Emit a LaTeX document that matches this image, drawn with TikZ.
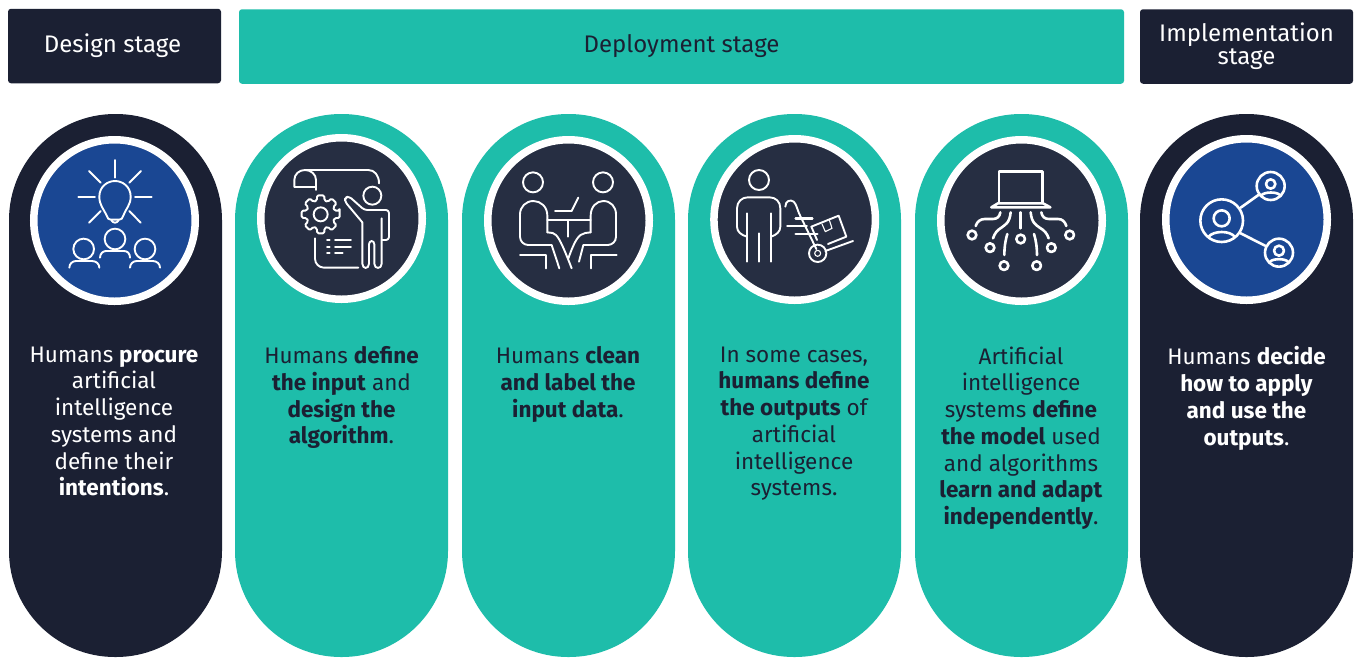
\documentclass[tikz,border=0pt]{standalone}
\usepackage{fontspec}
\setmainfont{Fira Sans}
\definecolor{navy}{HTML}{1B2033}
\definecolor{teal2}{HTML}{1EBDAA}
\definecolor{blue2}{HTML}{1A4793}
\definecolor{slate}{HTML}{262E42}
\tikzset{
  pill/.style={rectangle,minimum width=213pt,minimum height=543pt,rounded corners=106pt,inner sep=0pt},
  navypill/.style={pill,fill=navy},
  tealpill/.style={pill,fill=teal2},
  head/.style={rectangle,rounded corners=3pt,minimum height=74.5pt,inner sep=0pt,align=center,font=\fontsize{24}{24}\selectfont},
  badge/.style={circle,draw=white,line width=7.5pt,minimum size=161.5pt,inner sep=0pt},
  body/.style={anchor=north,align=center,inner sep=0pt,font=\fontsize{22.5}{26.7}\selectfont,execute at begin node={\rule{0pt}{20pt}}},
  icon/.style={draw=white,line width=1.9pt,line cap=round,line join=round,fill=none},
  thin/.style={icon,line width=1.1pt},
  heavy/.style={icon,line width=2.6pt},
  zoomed/.style={x=.33333pt,y=-.33333pt}
}
\newcommand{\bb}[1]{\textbf{#1}}
\begin{document}
\begin{tikzpicture}[x=1pt,y=-1pt]
\useasboundingbox (0,0) rectangle (1359,657);
\fill[white] (0,0) rectangle (1359,657);
% headers
\node[head,fill=navy,text=white,minimum width=213pt] (h1) at (114.5,46) {\raisebox{2pt}{Design stage}\kern4pt};
\node[head,fill=teal2,text=navy,minimum width=885pt] (h2) at (681.5,46.5) {\raisebox{2pt}{Deployment stage}};
\node[head,fill=navy,text=white,minimum width=213pt] (h3) at (1246.5,46.5) {Implementation\\[-1pt]stage};
% pills
\node[navypill] (p1) at (115.5,385.5) {};
\node[tealpill] (p2) at (341.5,385.5) {};
\node[tealpill] (p3) at (568.5,385.5) {};
\node[tealpill] (p4) at (794.5,385.5) {};
\node[tealpill] (p5) at (1021.5,385.5) {};
\node[navypill] (p6) at (1246.5,385.5) {};
% badges
\node[badge,fill=blue2] (b1) at (114.5,220.5) {};
\node[badge,fill=slate] (b2) at (341.5,218.5) {};
\node[badge,fill=slate] (b3) at (568.5,220.5) {};
\node[badge,fill=slate] (b4) at (794.7,219.5) {};
\node[badge,fill=slate] (b5) at (1021.5,220.5) {};
\node[badge,fill=blue2] (b6) at (1246.5,219.5) {};
% texts
\node[body,text=white] (t1) at (114,346.5) {Humans \bb{procure}\\artificial\\intelligence\\systems and\\define their\\\bb{intentions}.};
\node[body,text=navy] (t2) at (341.5,346.5) {Humans \bb{define}\\\bb{the input} and\\\bb{design the}\\\bb{algorithm}.};
\node[body,text=navy] (t3) at (568,346.5) {Humans \bb{clean}\\\bb{and label the}\\\bb{input data}.};
\node[body,text=navy] (t4) at (794,346.5) {In some cases,\\\bb{humans define}\\\bb{the outputs} of\\artificial\\intelligence\\systems.};
\node[body,text=navy] (t5) at (1021,346.5) {Artificial\\intelligence\\systems \bb{define}\\\bb{the model} used\\and algorithms\\\bb{learn and adapt}\\\bb{independently}.};
\node[body,text=white] (t6) at (1246.5,346.5) {Humans \bb{decide}\\\bb{how to apply}\\\bb{and use the}\\\bb{outputs}.};
% icon 1
\begin{scope}[shift={(20,125)},zoomed]
\foreach \a/\b/\c/\d in {285/105/285/158,207/138/242/173,363/138/328/173,175/215/225/215,345/215/395/215,242/258/207/293,328/258/362/293}
  \draw[icon] (\a,\b)--(\c,\d);
\draw[icon] (260,272) .. controls (250,250) and (238,240) .. (238,215) .. controls (238,185) and (262,168) .. (285,168) .. controls (308,168) and (332,185) .. (332,215) .. controls (332,240) and (318,250) .. (310,272) .. controls (308,280) and (304,284) .. (298,284) -- (272,284) .. controls (266,284) and (262,280) .. (260,272);
\draw[icon] (275,287) .. controls (280,295) and (290,295) .. (295,287);
\draw[icon] (285,342) circle[radius=31];
\draw[icon] (240,398) .. controls (240,385) and (250,378) .. (258,378) -- (312,378) .. controls (322,378) and (330,385) .. (330,398);
\draw[icon] (191,372) circle[radius=31];
\draw[icon] (148,428) .. controls (148,416) and (158,408) .. (168,408) -- (216,408) .. controls (228,408) and (238,416) .. (238,428);
\draw[icon] (375,372) circle[radius=31];
\draw[icon] (330,428) .. controls (330,416) and (340,408) .. (350,408) -- (398,408) .. controls (410,408) and (420,416) .. (420,428);
\end{scope}
% icon 2
\begin{scope}[shift={(245,125)},zoomed]
\draw[icon] (213,195) -- (213,165) .. controls (213,148) and (198,135) .. (180,135) .. controls (162,135) and (148,148) .. (148,165) -- (148,186) -- (213,186);
\draw[icon] (180,135) -- (370,135) .. controls (388,135) and (402,150) .. (402,175);
\begin{scope}[shift={(227,268)}]
\draw[icon,rounded corners=1.5pt] (-11:58) foreach \a in {0,45,...,315} { -- (\a-11:58) -- (\a+11:58) -- (\a+15:43) -- (\a+30:43) } -- cycle;
\draw[icon] (0,0) circle[radius=21];
\end{scope}
\draw[icon] (382,212) circle[radius=27];
\draw[icon,rounded corners=3pt] (352,292) -- (300,230) -- (300,218) -- (312,214) -- (358,255) -- (432,255) -- (432,345) -- (412,345);
\draw[icon] (352,292) -- (352,416) .. controls (352,433) and (372,433) .. (372,416) -- (372,358) .. controls (372,345) and (388,345) .. (388,358) -- (388,416) .. controls (388,433) and (410,433) .. (410,416) -- (410,280);
\draw[icon,rounded corners=9pt] (210,340) -- (210,428) -- (340,428);
\foreach \y/\e in {345/318,365/318,383/293} {
  \draw[icon] (246,\y) -- (254,\y);
  \draw[icon] (270,\y) -- (\e,\y);
}
\end{scope}
% icon 3
\begin{scope}[shift={(470,125)},zoomed]
\draw[icon] (189,172) circle[radius=30];
\draw[icon] (399,172) circle[radius=30];
\draw[icon] (255,258) -- (305,258) -- (325,218);
\draw[icon] (232,285) -- (362,285);
\draw[icon] (295,285) -- (295,335);
\draw[icon] (232,322) -- (232,272) .. controls (232,245) and (212,228) .. (190,228) .. controls (168,228) and (150,245) .. (150,268) -- (150,335) .. controls (150,350) and (162,360) .. (175,360) -- (245,360) -- (268,430);
\draw[icon] (232,322) -- (248,324) .. controls (262,328) and (272,345) .. (305,430);
\draw[icon] (362,322) -- (362,272) .. controls (362,245) and (380,228) .. (400,228) .. controls (422,228) and (438,245) .. (438,268) -- (438,335) .. controls (438,350) and (426,360) .. (413,360) -- (340,360) -- (327,410);
\draw[icon] (362,322) -- (346,324) .. controls (325,328) and (315,345) .. (295,400);
\draw[icon] (150,390) -- (228,390) -- (228,430);
\draw[icon] (440,390) -- (362,390) -- (362,430);
\end{scope}
% icon 4
\begin{scope}[shift={(697,125)},zoomed]
\draw[icon] (186,165) circle[radius=30];
\draw[icon] (150,410) -- (150,265);
\draw[icon] (222,410) -- (222,265);
\draw[icon] (186,325) -- (186,410);
\draw[icon] (150,335) .. controls (132,330) and (120,320) .. (120,305) -- (120,250) .. controls (120,230) and (135,217) .. (152,217) -- (218,217) .. controls (236,217) and (250,230) .. (250,250) -- (250,305) .. controls (250,320) and (238,330) .. (222,335);
\draw[icon] (265,245) .. controls (265,228) and (280,222) .. (290,230) .. controls (298,238) and (300,250) .. (306,265) -- (358,372);
\draw[heavy] (296,280) -- (346,280);
\draw[heavy] (271,303) -- (329,303);
\draw[heavy] (296,327) -- (361,327);
\draw[icon] (360,345) -- (343,305) -- (425,272) -- (448,335) -- (393,357);
\draw[thin] (375,297) -- (385,320) -- (405,310) -- (397,285);
\draw[icon] (385,378) -- (468,348);
\draw[icon] (362,385) circle[radius=26];
\draw[thin] (362,385) circle[radius=9];
\end{scope}
% icon 5
\begin{scope}[shift={(923,125)},zoomed]
\draw[heavy] (228,232) -- (228,140) -- (358,140) -- (358,232);
\draw[heavy] (205,247) -- (225,235) -- (360,235) -- (382,247) -- cycle;
\draw[heavy] (232,262) .. controls (230,275) and (222,282) .. (210,282) -- (185,282) .. controls (172,282) and (162,290) .. (158,303);
\draw[heavy] (263,262) .. controls (260,295) and (245,300) .. (235,308) .. controls (222,316) and (215,325) .. (210,340);
\draw[heavy] (293,262) -- (293,310);
\draw[heavy] (323,262) .. controls (326,295) and (340,300) .. (350,308) .. controls (364,316) and (372,325) .. (377,340);
\draw[heavy] (355,262) .. controls (357,275) and (365,282) .. (378,282) -- (405,282) .. controls (418,282) and (426,290) .. (430,303);
\draw[heavy] (253,327) .. controls (246,350) and (244,370) .. (244,390);
\draw[heavy] (333,327) .. controls (340,350) and (342,370) .. (342,390);
\foreach \x/\y in {147/330,201/368,293/342,385/368,440/330,243/422,341/422}
  \draw[heavy] (\x,\y) circle[radius=13];
\end{scope}
% icon 6
\begin{scope}[shift={(1150,125)},zoomed]
\draw[heavy] (215,287) circle[radius=64];
\draw[heavy] (215,280) circle[radius=24];
\draw[heavy] (175,336) .. controls (190,316) and (240,316) .. (255,336);
\draw[heavy] (362,183) circle[radius=42];
\draw[heavy] (362,177) circle[radius=14];
\draw[heavy] (335,210) .. controls (345,200) and (380,200) .. (390,210);
\draw[heavy] (387,383) circle[radius=42];
\draw[heavy] (387,377) circle[radius=15];
\draw[heavy] (360,410) .. controls (370,400) and (404,400) .. (414,410);
\draw[heavy] (272,248) -- (328,208);
\draw[heavy] (272,325) -- (345,362);
\end{scope}
\end{tikzpicture}
\end{document}
